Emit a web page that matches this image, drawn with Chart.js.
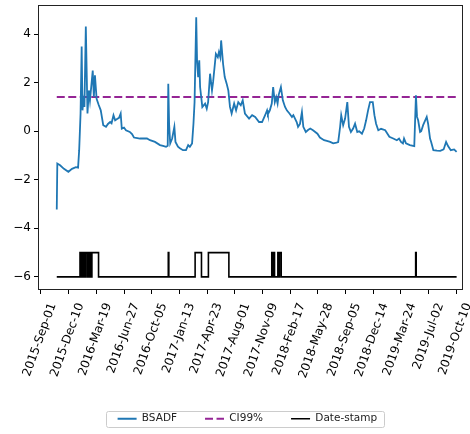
<!DOCTYPE html>
<html><head><meta charset="utf-8">
<script src="https://cdn.jsdelivr.net/npm/chart.js@4.4.1/dist/chart.umd.min.js"></script>
<style>html,body{margin:0;padding:0;background:#fff;}</style>
</head><body>
<canvas id="c" width="470" height="434"></canvas>
<script>
// ---- data (days since 2015-09-01) ----
const bsadfDays = [57,59,69,83,99,112,126,134,138,143,147,150,153,157,162,168,173,177,187,191,195,201,208,216,225,235,242,250,255,262,268,275,282,288,292,300,307,321,329,336,348,358,373,383,394,412,430,441,452,458,460,463,467,474,482,486,495,502,513,524,532,538,546,551,555,561,564,568,572,575,583,593,599,604,611,618,622,632,639,643,648,651,655,658,664,671,677,683,689,698,705,713,722,729,737,752,763,774,788,799,810,817,820,827,834,839,845,850,855,859,867,874,882,889,898,907,912,924,929,936,943,948,957,965,973,983,999,1008,1023,1033,1045,1056,1068,1074,1081,1085,1092,1099,1107,1113,1120,1128,1135,1143,1150,1160,1168,1175,1182,1189,1199,1205,1211,1219,1229,1244,1248,1259,1273,1286,1294,1301,1308,1312,1319,1333,1349,1355,1359,1363,1370,1374,1381,1394,1399,1406,1410,1418,1431,1443,1455,1464,1471,1481,1493,1502];
const bsadfValues = [-3.22,-1.33,-1.40,-1.55,-1.67,-1.55,-1.48,-1.50,-0.78,0.73,3.49,0.86,1.27,1.0,4.31,0.73,1.68,1.27,2.5,1.41,2.3,1.34,1.1,0.86,0.25,0.18,0.3,0.38,0.33,0.66,0.45,0.5,0.55,0.73,0.11,0.15,0.04,-0.03,-0.12,-0.26,-0.28,-0.30,-0.30,-0.30,-0.37,-0.44,-0.57,-0.6,-0.64,-0.6,1.96,0.3,-0.5,-0.3,0.18,-0.44,-0.64,-0.7,-0.78,-0.78,-0.57,-0.64,-0.5,0.31,1.2,4.69,2.92,2.23,2.92,1.82,1.0,1.14,0.93,1.2,2.37,1.68,2.03,3.19,3.05,3.26,3.05,3.74,3.19,2.78,2.23,1.96,1.68,1.0,0.73,1.14,0.86,1.2,1.07,1.27,0.73,0.52,0.66,0.59,0.38,0.38,0.66,0.86,0.7,0.86,1.14,1.82,1.2,1.4,1.14,1.5,1.82,1.27,1.0,0.85,0.73,0.59,0.66,0.38,0.18,0.3,0.79,0.18,-0.03,0.05,0.11,0.04,-0.1,-0.26,-0.37,-0.40,-0.44,-0.5,-0.47,-0.45,0.18,0.66,0.25,0.52,1.2,0.18,-0.03,0.11,0.31,-0.03,0.0,-0.1,0.11,0.45,0.86,1.2,1.2,0.66,0.31,0.04,0.1,0.04,-0.03,-0.23,-0.3,-0.37,-0.3,-0.44,-0.5,-0.3,-0.5,-0.57,-0.61,1.48,0.59,0.45,-0.03,0.0,0.25,0.59,0.31,-0.3,-0.44,-0.78,-0.8,-0.81,-0.75,-0.44,-0.61,-0.78,-0.75,-0.85];
const ci99Days = [57, 1502];
const ci99Values = [1.41, 1.41];
const stampDays = [57,141,143,146,151,154,156,160,166,171,175,180,182,184,208,460,462,557,580,605,679,834,837,839,844,856,860,862,868,1354,1356,1502];
const stampValues = [-6,-5,-6,-5,-6,-5,-6,-5,-6,-5,-6,-5,-6,-5,-6,-5,-6,-5,-6,-5,-6,-5,-6,-5,-6,-5,-6,-5,-6,-5,-6,-6];
const xTickDays = [0,100,200,300,400,500,600,700,800,900,1000,1100,1200,1300,1400,1500];
const yTickValues = [-6,-4,-2,0,2,4];
const seriesLabels = ['BSADF','CI99%','Date-stamp'];

const START = Date.UTC(2015, 8, 1);
const MONTHS = ['Jan','Feb','Mar','Apr','May','Jun','Jul','Aug','Sep','Oct','Nov','Dec'];
function fmtDay(d) {
  const dt = new Date(START + d * 86400000);
  return dt.getUTCFullYear() + '-' + MONTHS[dt.getUTCMonth()] + '-' + String(dt.getUTCDate()).padStart(2, '0');
}
const pts = (xs, ys) => xs.map((x, i) => ({x, y: ys[i]}));

const LEGEND_SHIFT = 16;
const framePlugin = {
  id: 'frame',
  afterLayout(chart) {
    const lg = chart.legend;
    if (lg) { lg.left += LEGEND_SHIFT; lg.right += LEGEND_SHIFT; }
  },
  afterDatasetsDraw(chart) {
    const {ctx, chartArea: a} = chart;
    ctx.save();
    ctx.strokeStyle = '#222';
    ctx.lineWidth = 1;
    ctx.strokeRect(Math.round(a.left) + 0.5, Math.round(a.top) + 0.5, Math.round(a.right - a.left) - 1, Math.round(a.bottom - a.top) - 1);
    ctx.restore();
  },
  afterDraw(chart) {
    const lg = chart.legend;
    if (!lg || !lg.legendHitBoxes.length) return;
    const hb = lg.legendHitBoxes;
    const l = hb[0].left - 12, r = hb[hb.length - 1].left + hb[hb.length - 1].width + 6;
    const t = hb[0].top - 2.5, b = hb[0].top + hb[0].height + 3;
    const ctx = chart.ctx;
    ctx.save();
    ctx.strokeStyle = '#cccccc';
    ctx.lineWidth = 1;
    ctx.beginPath();
    if (ctx.roundRect) ctx.roundRect(Math.round(l) + 0.5, Math.round(t) + 0.5, Math.round(r - l), Math.round(b - t), 2);
    else ctx.rect(Math.round(l) + 0.5, Math.round(t) + 0.5, Math.round(r - l), Math.round(b - t));
    ctx.stroke();
    ctx.restore();
  }
};

const LEGEND_PAD = 28;
const LEGEND_FONT = 10.5;
const tickFont = {family: 'DejaVu Sans', size: 12};
new Chart(document.getElementById('c'), {
  type: 'line',
  data: {
    datasets: [
      {label: seriesLabels[0], data: pts(bsadfDays, bsadfValues), borderColor: '#1f77b4', backgroundColor: '#1f77b4', borderWidth: 1.8, pointRadius: 0, tension: 0},
      {label: seriesLabels[1], data: pts(ci99Days, ci99Values), borderColor: '#952595', backgroundColor: '#952595', borderWidth: 1.8, borderDash: [8, 3.5], pointRadius: 0},
      {label: seriesLabels[2], data: pts(stampDays, stampValues), borderColor: '#000000', backgroundColor: '#000000', borderWidth: 1.6, pointRadius: 0, stepped: 'before'}
    ]
  },
  options: {
    responsive: false,
    animation: false,
    layout: {padding: {left: 0, right: 7.3, top: 5, bottom: 0}},
    plugins: {
      tooltip: {enabled: false},
      legend: {
        position: 'bottom',
        labels: {
          usePointStyle: true, pointStyle: 'line', pointStyleWidth: 19,
          font: {family: 'DejaVu Sans', size: LEGEND_FONT}, color: '#222', padding: LEGEND_PAD,
          generateLabels: chart => chart.data.datasets.map((ds, i) => ({
            text: ds.label, datasetIndex: i, hidden: false,
            fillStyle: ds.borderColor, strokeStyle: ds.borderColor,
            lineWidth: ds.borderWidth, lineDash: ds.borderDash || [], lineCap: 'butt',
            pointStyle: 'line', fontColor: '#222'
          }))
        }
      }
    },
    scales: {
      x: {
        type: 'linear', min: -10.8, max: 1524,
        afterBuildTicks: s => { s.ticks = xTickDays.map(v => ({value: v})); },
        afterFit: s => { s.height = 434 - 290 - (LEGEND_FONT + LEGEND_PAD + 10); s.paddingLeft = 0; s.paddingRight = 0; },
        ticks: {autoSkip: false, minRotation: 70, maxRotation: 70, callback: v => fmtDay(v), font: tickFont, color: '#000', padding: 7, labelOffset: 12},
        grid: {drawOnChartArea: false, drawTicks: true, tickLength: 4, tickColor: '#000', tickWidth: 1},
        border: {display: false}
      },
      y: {
        min: -6.54, max: 5.2,
        afterBuildTicks: s => { s.ticks = yTickValues.map(v => ({value: v})); },
        afterFit: s => { s.width = 38; s.paddingTop = 0; s.paddingBottom = 0; },
        ticks: {callback: v => (v < 0 ? '\u2212' + Math.abs(v) : String(v)), font: tickFont, color: '#000', padding: 3},
        grid: {drawOnChartArea: false, drawTicks: true, tickLength: 4, tickColor: '#000', tickWidth: 1},
        border: {display: false}
      }
    }
  },
  plugins: [framePlugin]
});
</script>
</body></html>
